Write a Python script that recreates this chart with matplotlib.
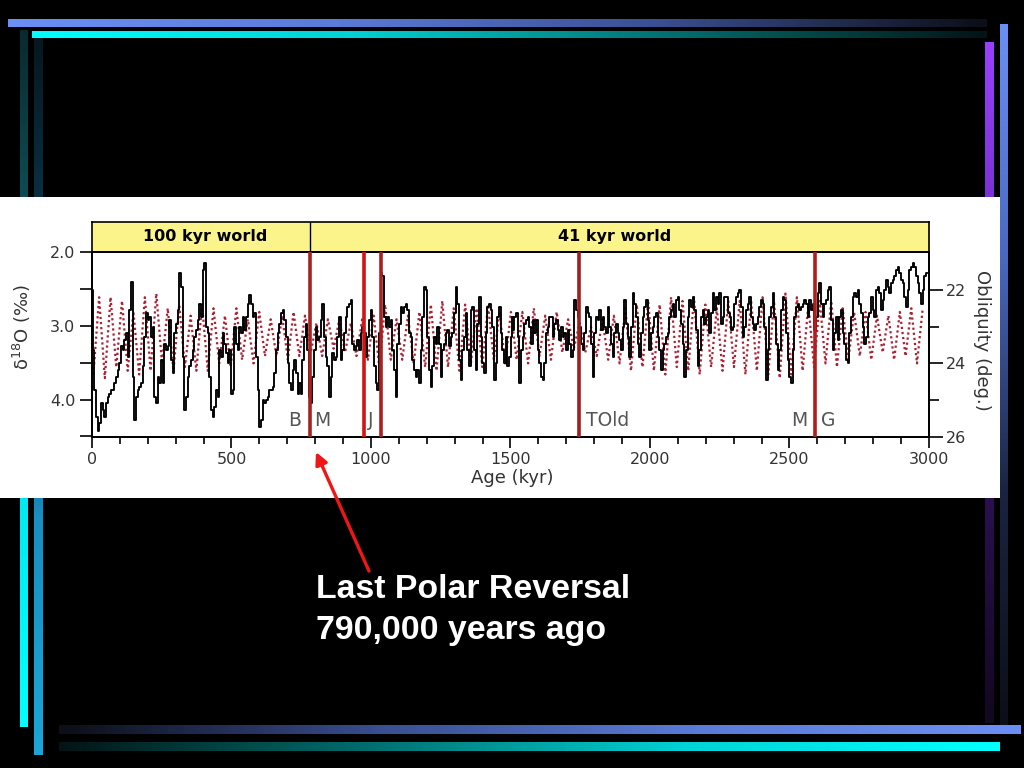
import numpy as np
import matplotlib
matplotlib.use("Agg")
import matplotlib.pyplot as plt
from matplotlib.colors import LinearSegmentedColormap
from matplotlib.patches import Rectangle
from matplotlib.ticker import FixedLocator

# ---------------- data ----------------
# delta18O (per mil) in four consecutive stretches
d18o_seg1 = [2.52, 3.33, 3.87, 4.23, 4.43, 4.32, 4.05, 4.14, 4.23, 4.05,
             3.96, 3.92, 3.87, 3.87, 3.78, 3.69, 3.60, 3.51, 3.28, 3.33,
             3.19, 3.10, 3.42, 2.79, 2.40, 3.69, 4.28, 3.96, 3.87, 3.83,
             3.78, 3.55, 3.15, 2.83, 2.92, 2.88, 3.15, 3.01, 3.96, 4.05,
             3.69, 3.78, 3.46, 3.78, 3.24, 3.33, 3.28, 2.92, 3.46, 3.64,
             3.10, 2.97, 2.79, 2.29, 2.47, 3.42, 4.14, 3.96, 3.69, 3.55,
             3.46, 3.33, 3.15, 3.06, 2.92, 2.70, 2.88, 2.24, 2.15, 3.01,
             3.10, 3.69, 4.14, 4.23, 4.10, 3.87, 3.96, 3.33, 3.42, 3.10,
             3.24, 3.37, 3.51, 3.33, 3.92, 3.87, 3.01, 3.24, 3.33, 3.01,
             3.10, 2.88, 3.06, 2.88, 2.70, 2.58, 2.70, 2.88, 2.83, 3.42,
             3.87, 4.37, 4.28, 4.01, 4.05, 4.01, 3.96, 3.87, 3.87, 3.83,
             3.64, 3.33, 3.10, 2.97, 2.83, 2.79, 2.92, 3.15, 3.51, 3.78,
             3.87, 3.60, 3.46, 3.64, 3.92, 3.78, 3.92]
d18o_seg2 = [3.69, 3.46, 3.15, 2.97, 3.33, 3.96, 4.05, 3.69, 3.33, 3.01,
             3.19, 3.15, 2.92, 2.70, 3.15, 3.42, 3.55, 3.96, 3.69, 3.37,
             3.46, 3.42, 3.15, 2.88, 3.46, 3.33, 3.10, 2.88, 2.74, 2.70,
             2.65, 3.24, 3.33, 3.28, 3.19, 3.33, 3.10, 3.01, 3.10, 3.42,
             3.15, 2.92, 2.79, 3.15, 3.55, 3.78, 3.87, 3.10, 2.29, 2.33,
             2.88, 3.01, 2.88, 3.01, 2.92, 3.33, 3.60, 3.96, 3.24, 2.97,
             2.74, 2.83, 2.74, 2.70, 2.79, 3.10, 3.15, 3.46, 3.60, 3.69,
             3.60, 3.78, 3.33, 2.88, 2.47, 2.52, 3.15, 3.60, 3.83, 3.55,
             3.15, 3.24, 3.01, 3.24, 3.69, 3.33, 3.24, 3.10, 3.06, 3.28,
             3.15, 3.10, 2.83, 2.47, 2.70, 3.46, 3.74, 3.33, 3.15, 2.83,
             3.33, 3.55, 2.79, 2.74, 3.33, 3.60, 2.97, 2.61, 3.15, 3.51,
             3.64, 3.10, 2.74, 2.70, 2.79, 3.01, 3.74, 3.51, 2.88, 2.74,
             3.10, 3.33, 3.51, 3.15, 3.55, 3.42, 3.15, 2.88]
d18o_seg3 = [3.06, 2.88, 2.83, 3.15, 3.78, 3.33, 3.15, 2.97, 2.92, 2.88,
             3.01, 3.24, 2.92, 3.10, 2.92, 3.33, 3.51, 3.69, 3.74, 3.51,
             3.10, 3.01, 2.88, 2.88, 3.15, 2.97, 2.92, 3.06, 3.19, 3.01,
             3.15, 3.10, 3.33, 3.06, 3.24, 3.42, 3.33, 2.65, 2.79, 2.88,
             3.01, 3.24, 3.33, 3.10, 2.74, 2.83, 2.88, 3.24, 3.69, 3.10,
             2.88, 2.92, 2.79, 3.06, 2.88, 3.01, 3.10, 2.74, 3.01, 3.24,
             3.42, 3.10, 2.97, 3.10, 3.19, 3.33, 3.01, 2.65, 2.97, 3.15,
             3.42, 3.01, 2.56, 2.70, 2.88, 3.24, 3.42, 3.10, 2.88, 2.74,
             2.65, 2.92, 3.33, 3.10, 3.01, 2.88, 2.83, 3.15, 3.33, 3.60,
             3.33, 3.24, 3.15, 3.10, 2.88, 2.79, 2.70, 2.88, 2.65, 2.61,
             2.79, 2.97, 3.24, 3.69, 3.33, 2.88, 2.65, 2.74, 2.61, 2.79,
             3.06, 3.55, 3.33, 2.88, 2.79, 2.97, 2.88, 2.79, 3.10, 2.83,
             2.56, 2.79, 2.61, 2.70, 2.56, 2.97, 2.88, 2.61]
d18o_seg4 = [2.61, 2.83, 2.88, 3.06, 3.01, 2.70, 2.61, 2.56, 2.52, 2.74,
             3.15, 3.01, 2.79, 2.70, 2.61, 2.88, 2.97, 3.06, 2.97, 2.88,
             2.74, 2.65, 2.70, 3.01, 3.74, 3.33, 2.88, 2.74, 2.56, 2.88,
             3.24, 3.60, 3.33, 2.79, 2.61, 2.65, 3.10, 3.46, 3.69, 3.78,
             3.33, 2.88, 2.74, 2.70, 2.79, 2.74, 2.70, 2.65, 2.70, 2.88,
             2.65, 2.79, 2.70, 3.06, 2.88, 2.56, 2.42, 2.70, 2.88, 2.70,
             2.65, 2.52, 2.47, 2.92, 3.33, 3.10, 2.88, 3.19, 2.88, 2.79,
             3.10, 3.24, 3.46, 3.51, 3.10, 2.88, 2.61, 2.56, 2.61, 2.52,
             2.70, 2.83, 3.01, 3.24, 3.15, 2.88, 2.83, 2.61, 2.79, 2.88,
             2.52, 2.47, 2.56, 2.79, 2.65, 2.52, 2.38, 2.47, 2.56, 2.42,
             2.38, 2.33, 2.24, 2.20, 2.29, 2.38, 2.42, 2.61, 2.74, 2.52,
             2.24, 2.20, 2.15, 2.20, 2.33, 2.42, 2.56, 2.70, 2.52, 2.33,
             2.29]
d18o_segments = [d18o_seg1, d18o_seg2, d18o_seg3, d18o_seg4]
d18o_seg_start_age = [0, 751, 1511, 2276]   # kyr
d18o_sample_step = 5.97                      # kyr

# obliquity (deg), successive extremes (max, min, max, min ...)
obliquity = [24.3, 22.2, 24.4, 22.2, 24.1, 22.3, 24.2, 22.6, 24.3, 22.2,
             24.2, 22.1, 24.0, 22.5, 24.2, 22.4, 24.1, 22.7, 24.2, 22.4,
             24.2, 22.5, 24.0, 22.7, 24.1, 22.5, 23.9, 22.8, 24.0, 22.6,
             23.8, 22.8, 23.8, 22.7, 23.9, 22.6,
             23.8, 22.7, 23.7, 22.9, 23.8, 22.8, 23.6, 22.8, 23.7, 22.9,
             23.8, 22.8, 23.9, 22.7, 24.1, 22.4, 23.9, 22.8, 23.9, 22.7,
             24.0, 22.6, 24.1, 22.4, 24.2, 22.3, 24.1, 22.5, 24.2, 22.4,
             24.0, 22.5, 24.1, 22.4, 23.9, 22.6, 24.0, 22.6,
             23.9, 22.6, 24.0, 22.5, 23.8, 22.7, 23.9, 22.6, 23.7, 22.8,
             23.6, 22.9, 23.7, 23.0, 23.8, 22.8, 23.9, 22.7, 24.0, 22.5,
             24.2, 22.4, 24.1, 22.3, 24.2, 22.4, 24.3, 22.2, 24.1, 22.3,
             24.2, 22.2, 24.3, 22.4, 24.1, 22.5, 24.2, 22.3,
             24.1, 22.3, 24.3, 22.3, 24.2, 22.2, 24.3, 22.3, 24.4, 22.1,
             24.3, 22.2, 24.2, 22.4, 24.1, 22.3, 24.0, 22.3, 24.1, 22.5,
             23.9, 22.6, 23.8, 22.6, 23.9, 22.7, 23.7, 22.7, 23.9, 22.6,
             23.8, 22.5, 24.0, 22.5]
obliquity_first_age = 5       # kyr
obliquity_half_period = 20.5  # kyr

# magnetic reversal boundaries (kyr)
event_ages = [780, 975, 1035, 1745, 2590]
event_colors = ["#a52222", "#d41414", "#a82020", "#9c2020", "#b01e1e"]
event_labels = [("B", 728, "center"), ("M", 826, "center"), ("J", 1000, "center"),
                ("TOld", 1772, "left"), ("M", 2534, "center"), ("G", 2640, "center")]

x_major = [0, 500, 1000, 1500, 2000, 2500, 3000]
y_left_major = [2.0, 3.0, 4.0]
y_left_minor = [2.5, 3.5, 4.5]
y_right_major = [22, 24, 26]
y_right_minor = [23, 25]

# ---------------- figure ----------------
W, H = 1024, 768
fig = plt.figure(figsize=(W / 100, H / 100), dpi=100, facecolor="black")

bg = fig.add_axes([0, 0, 1, 1])
bg.axis("off")


def gbar(x0, x1, y0, y1, colors, horizontal=True):
    grad = np.linspace(0, 1, 256)
    img = grad[None, :] if horizontal else grad[:, None]
    cmap = LinearSegmentedColormap.from_list("g", colors)
    bg.imshow(img, cmap=cmap, extent=[x0, x1, y1, y0], aspect="auto",
              interpolation="bilinear", zorder=1)


# decorative frame bars
gbar(8, 987, 19, 27, ["#6b8ff5", "#5b7bd8", "#3a4f92", "#0c0e18"])
gbar(32, 987, 31, 38, ["#00ffff", "#00d2d6", "#00706f", "#041416"])
gbar(20, 28, 30, 727, ["#0a2a30", "#0f5a62", "#00e8f2", "#00ffff"], horizontal=False)
gbar(34, 43, 38, 755, ["#061820", "#0c3b55", "#178fc0", "#1aa6d8"], horizontal=False)
gbar(985, 994, 42, 723, ["#9a40ff", "#6a2cc0", "#2a1050", "#120820"], horizontal=False)
gbar(1000, 1008, 24, 725, ["#6b8ff5", "#4a68c0", "#1a2440", "#0c0f18"], horizontal=False)
gbar(59, 1021, 725, 734, ["#0c0e18", "#3a4f92", "#5b7bd8", "#6b8ff5"])
gbar(59, 1000, 742, 751, ["#041416", "#00706f", "#00d2d6", "#00ffff"])

bg.add_patch(Rectangle((0, 197), 1000, 301, facecolor="white", edgecolor="none", zorder=2))

bg.annotate("", xy=(316, 452), xytext=(369, 571),
            arrowprops=dict(arrowstyle="-|>", color="#f01616", lw=2.4,
                            mutation_scale=18, shrinkA=0, shrinkB=0), zorder=5)
bg.text(316, 598, "Last Polar Reversal", color="white", fontsize=24.4,
        fontweight="bold", family="Liberation Sans", ha="left", va="baseline", zorder=5)
bg.text(316, 639, "790,000 years ago", color="white", fontsize=24.4,
        fontweight="bold", family="Liberation Sans", ha="left", va="baseline", zorder=5)
bg.set_xlim(0, W)
bg.set_ylim(H, 0)

# header bar
L, R, TOP, BOT, HDR = 92, 929, 252, 437, 222
hdr = fig.add_axes([L / W, 1 - TOP / H, (R - L) / W, (TOP - HDR) / H])
hdr.set_facecolor("#fbf48a")
hdr.set_xlim(0, 3000)
hdr.set_ylim(0, 1)
hdr.set_xticks([])
hdr.set_yticks([])
for s in hdr.spines.values():
    s.set_linewidth(1.2)
hdr.axvline(event_ages[0], color="black", lw=1.0)
hdr.text(405, 0.5, "100 kyr world", ha="center", va="center", fontsize=11.5,
         fontweight="heavy", color="black")
hdr.text(1873, 0.5, "41 kyr world", ha="center", va="center", fontsize=11.5,
         fontweight="heavy", color="black")

# main axes
ax = fig.add_axes([L / W, 1 - BOT / H, (R - L) / W, (BOT - TOP) / H])
ax2 = ax.twinx()
ax.set_zorder(ax2.get_zorder() + 1)
ax.patch.set_visible(False)

ages_all, d18o_all = [], []
for seg, a0 in zip(d18o_segments, d18o_seg_start_age):
    ages_all.extend(a0 + d18o_sample_step * np.arange(len(seg)))
    d18o_all.extend(seg)
ax.plot(ages_all, d18o_all, color="black", lw=1.35, drawstyle="steps-mid", zorder=3)

for xa, c in zip(event_ages, event_colors):
    ax.axvline(xa, color=c, lw=2.6, zorder=4)
for lab, xa, ha in event_labels:
    ax.text(xa, 4.28, lab, ha=ha, va="center", fontsize=13.5, color="#555555", zorder=5)

obl_ages = obliquity_first_age + obliquity_half_period * np.arange(len(obliquity))
ax2.plot(obl_ages, obliquity, color="#aa2236", lw=1.6, ls=(0, (1.0, 1.3)))

ax.set_xlim(0, 3000)
ax.set_ylim(4.507, 2.0)
ax2.set_ylim(26.0, 20.97)

ax.xaxis.set_major_locator(FixedLocator(x_major))
ax.xaxis.set_minor_locator(FixedLocator(np.arange(0, 3001, 100)))
ax.set_xticklabels([str(v) for v in x_major])
ax.yaxis.set_major_locator(FixedLocator(y_left_major))
ax.yaxis.set_minor_locator(FixedLocator(y_left_minor))
ax.set_yticklabels([f"{v:.1f}" for v in y_left_major])
ax2.yaxis.set_major_locator(FixedLocator(y_right_major))
ax2.yaxis.set_minor_locator(FixedLocator(y_right_minor))
ax2.set_yticklabels([str(v) for v in y_right_major])

tc = "#333333"
ax.tick_params(axis="x", which="major", direction="out", length=8, width=1.2,
               pad=3, labelsize=11.5, labelcolor=tc)
ax.tick_params(axis="x", which="minor", direction="out", length=5, width=1.2)
ax.tick_params(axis="y", which="major", direction="out", length=9, width=1.2,
               pad=3, labelsize=11.5, labelcolor=tc)
ax.tick_params(axis="y", which="minor", direction="out", length=9, width=1.2)
ax2.tick_params(axis="y", which="major", direction="out", length=10, width=1.2,
                pad=2, labelsize=11.5, labelcolor=tc)
ax2.tick_params(axis="y", which="minor", direction="out", length=7, width=1.2)
for a in (ax, ax2):
    for s in a.spines.values():
        s.set_linewidth(1.3)

fig.text(512 / W, 1 - 478 / H, "Age (kyr)", ha="center", va="center",
         fontsize=13, color=tc)
fig.text(22 / W, 1 - 327 / H, "δ$^{18}$O (‰)", ha="center", va="center",
         fontsize=13, color=tc, rotation=90)
fig.text(982 / W, 1 - 340 / H, "Obliquity (deg.)", ha="center", va="center",
         fontsize=13, color=tc, rotation=-90)

fig.savefig("out.png", dpi=100, facecolor="black")
